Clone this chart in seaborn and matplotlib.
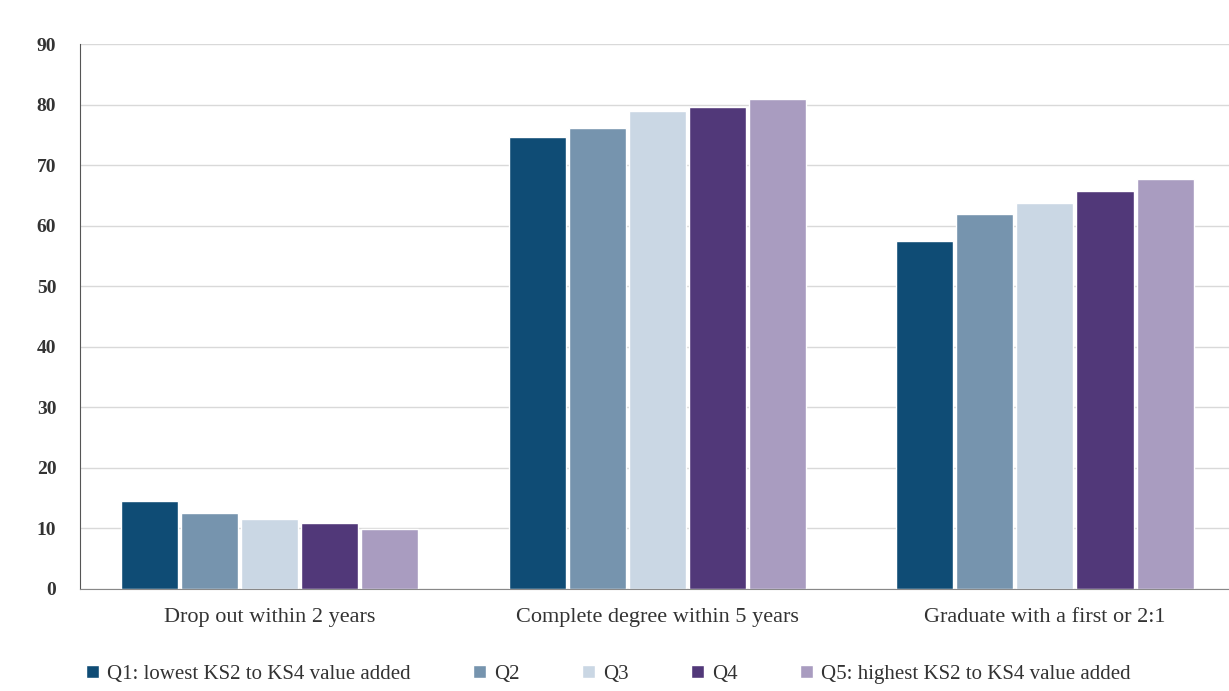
import numpy as np
import pandas as pd
import seaborn as sns
import matplotlib.pyplot as plt

# outcome categories and the five value-added quintiles
outcomes = ["Drop out within 2 years", "Complete degree within 5 years", "Graduate with a first or 2:1"]
quintiles = ["Q1: lowest KS2 to KS4 value added", "Q2", "Q3", "Q4",
             "Q5: highest KS2 to KS4 value added"]

# percentages, one list per outcome (Q1..Q5)
drop_out = [14.5, 12.5, 11.6, 10.9, 9.9]
complete_degree = [74.6, 76.2, 78.9, 79.7, 80.9]
first_or_21 = [57.4, 61.9, 63.7, 65.7, 67.7]

y_ticks = [0, 10, 20, 30, 40, 50, 60, 70, 80, 90]
colors = ["#0f4c75", "#7694ae", "#cad7e4", "#513879", "#a99cc0"]

rows = []
for outcome, vals in zip(outcomes, [drop_out, complete_degree, first_or_21]):
    for q, v in zip(quintiles, vals):
        rows.append({"outcome": outcome, "quintile": q, "value": v})
df = pd.DataFrame(rows)

sns.set_style("white")
plt.rcParams["font.family"] = ["Liberation Serif", "DejaVu Serif"]

fig = plt.figure(figsize=(12.29, 6.91), dpi=100)
ax = fig.add_axes([0.065, 0.148, 0.935, 0.788])

sns.barplot(data=df, x="outcome", y="value", hue="quintile", hue_order=quintiles,
            order=outcomes, palette=colors, width=0.775, gap=0.05, ax=ax,
            saturation=1, errorbar=None, legend=True)

ax.set_ylim(0, 90)
ax.set_xlim(-0.49, 2.475)
ax.set_yticks(y_ticks)
ax.set_yticklabels([str(t) for t in y_ticks], fontsize=14, fontweight="bold", color="#333333")
ax.yaxis.grid(True, color="#d9d9d9", linewidth=1)
ax.set_axisbelow(True)
ax.tick_params(axis="y", length=5, color="#555555", pad=12)
ax.tick_params(axis="x", length=0, pad=14, labelsize=16, labelcolor="#333333")
ax.set_xlabel("")
ax.set_ylabel("")
for side in ["top", "right"]:
    ax.spines[side].set_visible(False)
ax.spines["left"].set_color("#555555")
ax.spines["bottom"].set_color("#888888")

leg = ax.legend(loc="upper center", bbox_to_anchor=(0.46, -0.105), ncol=5,
                frameon=False, fontsize=15, handlelength=0.6, handleheight=0.6,
                columnspacing=3.0, handletextpad=0.4)
for t in leg.get_texts():
    t.set_color("#333333")

fig.savefig("out.png", dpi=100)
